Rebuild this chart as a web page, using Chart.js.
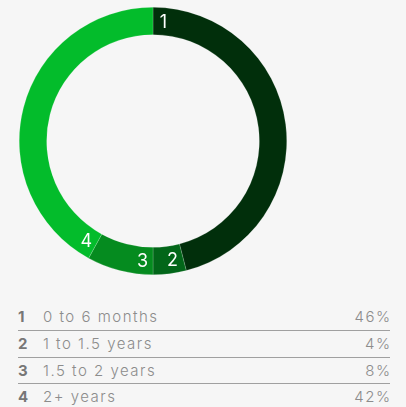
<!DOCTYPE html>
<html>
<head>
<meta charset="utf-8">
<script src="https://cdn.jsdelivr.net/npm/chart.js@4.4.1/dist/chart.umd.min.js"></script>
<style>
  html, body { margin: 0; padding: 0; background: #f6f6f6; }
  body { width: 406px; height: 407px; position: relative; overflow: hidden; font-family: Inter, "Noto Sans", sans-serif; }
  #ring { position: absolute; left: 19px; top: 7px; width: 268px; height: 268px; }
  #legend { position: absolute; left: 18px; top: 304px; width: 372px; }
  .row { display: flex; height: 26px; line-height: 26px; font-size: 15px; color: #8c8c8c; font-weight: 300; letter-spacing: 1.5px; }
  .row + .row { border-top: 1px solid #a0a0a0; height: 25.5px; }
  .num { width: 25px; font-weight: 700; color: #777; letter-spacing: 0; }
  .name { flex: 1; }
  .pct { text-align: right; margin-right: -1.5px; }
</style>
</head>
<body>
<div id="ring"><canvas id="tenure"></canvas></div>
<div id="legend"></div>
<script>
var categories = ["0 to 6 months", "1 to 1.5 years", "1.5 to 2 years", "2+ years"];
var shares = [46, 4, 8, 42];
var sliceColors = ["#012f0b", "#026619", "#058b1f", "#03bc2b"];

// number each slice just past where it starts on the ring
var sliceNumbers = {
  id: "sliceNumbers",
  afterDatasetsDraw: function(chart) {
    var ctx = chart.ctx;
    var arcs = chart.getDatasetMeta(0).data;
    ctx.save();
    ctx.fillStyle = "#ffffff";
    ctx.font = "400 18px Inter, 'Noto Sans', sans-serif";
    ctx.textAlign = "center";
    ctx.textBaseline = "middle";
    arcs.forEach(function(arc, i) {
      var p = arc.getProps(["x", "y", "startAngle", "innerRadius", "outerRadius"], true);
      var r = (p.innerRadius + p.outerRadius) / 2;
      var a = p.startAngle + 5 * Math.PI / 180;
      ctx.fillText(String(i + 1), p.x + Math.cos(a) * r, p.y + Math.sin(a) * r + 1);
    });
    ctx.restore();
  }
};

new Chart(document.getElementById("tenure").getContext("2d"), {
  type: "doughnut",
  data: {
    labels: categories,
    datasets: [{
      data: shares,
      backgroundColor: sliceColors,
      borderColor: "rgba(255,255,255,0.35)",
      borderWidth: 0.5
    }]
  },
  options: {
    responsive: true,
    maintainAspectRatio: false,
    animation: false,
    cutout: "79.5%",
    plugins: { legend: { display: false }, tooltip: { enabled: false } }
  },
  plugins: [sliceNumbers]
});

var legend = document.getElementById("legend");
categories.forEach(function(name, i) {
  var row = document.createElement("div");
  row.className = "row";
  row.innerHTML = '<span class="num">' + (i + 1) + '</span><span class="name">' + name +
    '</span><span class="pct">' + shares[i] + '%</span>';
  legend.appendChild(row);
});
</script>
</body>
</html>
